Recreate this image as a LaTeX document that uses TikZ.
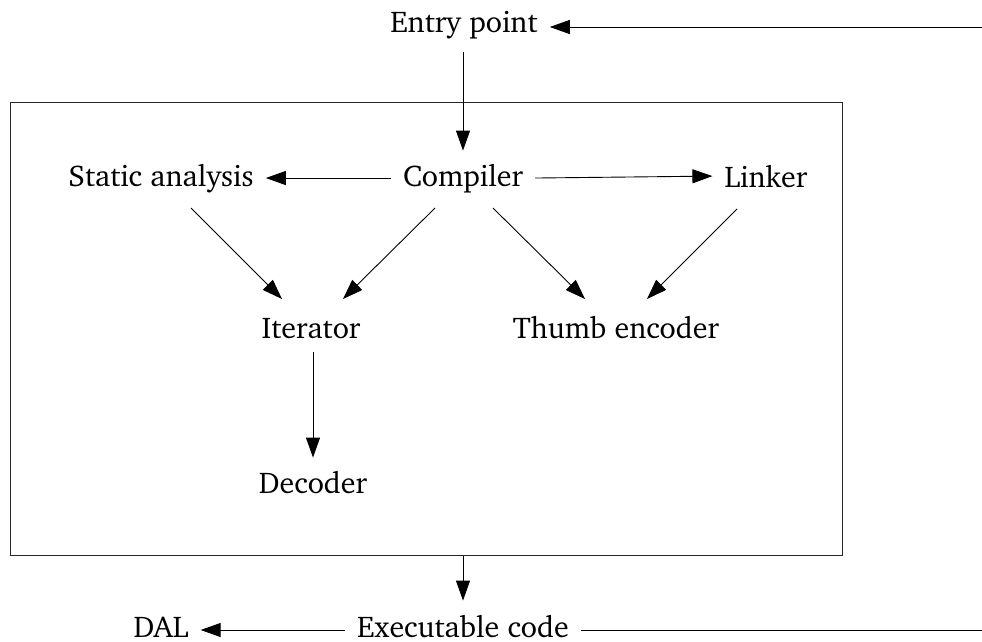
\documentclass[tikz,border=0pt]{standalone}
\usepackage[T1]{fontenc}
\usepackage{charter}
\usetikzlibrary{arrows.meta}
\begin{document}
\begin{tikzpicture}[x=1pt,y=-1pt,
  lbl/.style={font=\fontsize{30}{36}\selectfont, inner xsep=12pt, inner ysep=13pt, anchor=base},
  lowlbl/.style={lbl, inner ysep=1pt},
  edge/.style={line width=0.9pt, black},
  arr/.style={edge, -{Triangle[length=20pt,width=14pt]}},
  boxline/.style={line width=1.3pt, black!85}]
\useasboundingbox (0,0) rectangle (982,642);
% nodes
\node[lbl] (entry) at (464,33) {Entry point};
\node[lbl] (sa) at (161,186) {Static analysis};
\node[lbl] (comp) at (463,186) {Compiler};
\node[lbl] (link) at (766,187) {Linker};
\node[lbl] (it) at (311,338) {Iterator};
\node[lbl] (th) at (616,338) {Thumb encoder};
\node[lbl] (dec) at (313,493) {Decoder};
\node[lowlbl] (exe) at (463,637) {Executable code};
\node[lowlbl] (dal) at (161,637) {DAL};
% cluster box
\node[boxline, draw, minimum width=832pt, minimum height=453pt, inner sep=0pt, anchor=north west] (box) at (10,102) {};
% free ends
\coordinate (inR) at (982,27);
\coordinate (outR) at (982,630);
% connectors
\draw[arr] (inR) -- (entry.east |- inR);
\draw[arr] (entry.south -| comp.north) -- (comp.north);
\draw[arr] (comp.west) -- (sa.east);
\draw[arr] (comp.east) -- (link.west);
\draw[arr] ([shift={(30,22)}]sa.base) -- ([shift={(-29,-39)}]it.base);
\draw[arr] ([shift={(-28,22)}]comp.base) -- ([shift={(32,-39)}]it.base);
\draw[arr] ([shift={(30,22)}]comp.base) -- ([shift={(-31,-39)}]th.base);
\draw[arr] ([shift={(-29,22)}]link.base) -- ([shift={(31,-39)}]th.base);
\draw[arr] (it.south -| dec.north) -- (dec.north);
\draw[arr] (box.south -| exe.north) -- ([shift={(0,-13)}]exe.north);
\draw[arr] (exe.west |- outR) -- (dal.east |- outR);
\draw[edge] (exe.east |- outR) -- (outR);
\end{tikzpicture}
\end{document}
